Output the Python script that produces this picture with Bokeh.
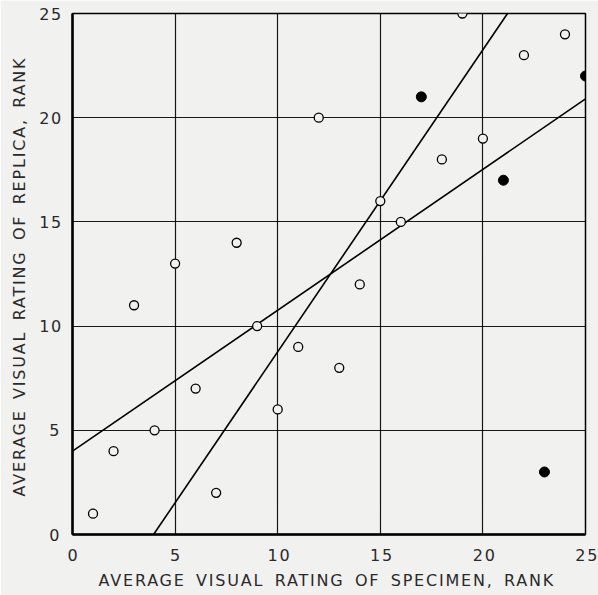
from bokeh.plotting import figure
from bokeh.models import Range1d, FixedTicker, Title
from bokeh.embed import file_html
from bokeh.resources import INLINE

# Data
open_x = [1, 2, 3, 4, 5, 6, 7, 8, 9, 10, 11, 12, 13, 14, 15, 16, 18, 19, 20, 22, 24]
open_y = [1, 4, 11, 5, 13, 7, 2, 14, 10, 6, 9, 20, 8, 12, 16, 15, 18, 25, 19, 23, 24]
filled_x = [17, 21, 23, 25]
filled_y = [21, 17, 3, 22]

line1_x = [0, 25]
line1_y = [4.0, 20.9]
line2_x = [3.95, 21.2]
line2_y = [0, 25]

ticks = [0, 5, 10, 15, 20, 25]
x_title = "AVERAGE VISUAL RATING OF SPECIMEN, RANK"
y_title = "AVERAGE VISUAL RATING OF REPLICA, RANK"

BG = "#f1f1ef"
FONT = "DejaVu Sans"
TXT = "#2a2a2a"

p = figure(width=598, height=595, output_backend="svg", toolbar_location=None,
           x_range=Range1d(0, 25), y_range=Range1d(0, 25),
           min_border_left=72, min_border_right=13, min_border_top=13, min_border_bottom=61,
           styles={"letter-spacing": "1.8px", "word-spacing": "3.5px"})
p.background_fill_color = BG
p.border_fill_color = BG
p.outline_line_color = "black"
p.outline_line_width = 1.5

for ax in (p.xaxis[0], p.yaxis[0]):
    ax.ticker = FixedTicker(ticks=ticks)
    ax.major_tick_line_color = None
    ax.major_tick_out = 0
    ax.major_tick_in = 0
    ax.minor_tick_line_color = None
    ax.minor_tick_out = 0
    ax.axis_line_color = "black"
    ax.axis_line_width = 2.5
    ax.major_label_text_font = FONT
    ax.major_label_text_font_size = "16px"
    ax.major_label_text_color = TXT

p.xaxis.major_label_standoff = 14
p.yaxis.major_label_standoff = 13

p.xgrid.ticker = FixedTicker(ticks=[5, 10, 15, 20])
p.ygrid.ticker = FixedTicker(ticks=[5, 10, 15, 20])
for g in (p.xgrid[0], p.ygrid[0]):
    g.grid_line_color = "black"
    g.grid_line_width = 1.2
    g.grid_line_alpha = 0.9

p.line(line1_x, line1_y, line_color="black", line_width=1.6)
p.line(line2_x, line2_y, line_color="black", line_width=1.6)

p.scatter(open_x, open_y, marker="circle", size=9, fill_color=BG,
          line_color="black", line_width=1.3)
p.scatter(filled_x, filled_y, marker="circle", size=10, fill_color="black",
          line_color="black")

# Axis titles as left-aligned titles so the letter spacing does not shift them
p.add_layout(Title(text=x_title, align="left", offset=26, standoff=10,
                   text_font=FONT, text_font_size="16px", text_color=TXT,
                   text_font_style="normal"), "below")
p.add_layout(Title(text=y_title, align="left", offset=38, standoff=15,
                   text_font=FONT, text_font_size="16px", text_color=TXT,
                   text_font_style="normal"), "left")

open("out.html", "w").write(file_html(p, INLINE))
